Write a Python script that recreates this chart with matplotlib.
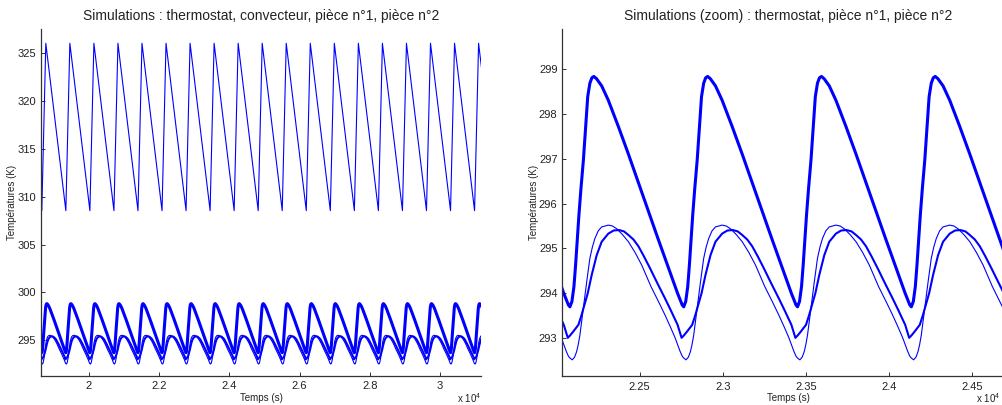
import numpy as np
import matplotlib
matplotlib.use("Agg")
import matplotlib.pyplot as plt
from matplotlib.ticker import FixedLocator, FixedFormatter

plt.rcParams['font.family'] = ['Liberation Sans', 'DejaVu Sans']
plt.rcParams['mathtext.default'] = 'regular'

BLUE = (0, 0, 1)
DARK = "#333333"

# heater switch-on instants (thermostat minima), seconds
switch_on_s = [17970, 18655, 19340, 20025, 20710, 21395, 22080, 22765, 23450,
               24135, 24820, 25505, 26190, 26875, 27560, 28245, 28930, 29615,
               30300, 30985, 31670]

# one cycle of each signal (offset s, temperature K)
conv_off = [0, 114, 685]
conv_val = [308.55, 326.04, 308.55]

thermo_off = [0, 12, 24, 34, 44, 54, 66, 81, 95, 107, 120, 132, 144, 160, 191,
              231, 291, 352, 426, 530, 600, 648, 664, 676, 685]
thermo_val = [293.70, 293.82, 294.15, 294.63, 295.20, 295.74, 296.32, 296.97,
              297.72, 298.38, 298.68, 298.80, 298.83, 298.78, 298.62, 298.30,
              297.72, 297.10, 296.32, 295.22, 294.50, 294.00, 293.85, 293.74,
              293.70]

room1_off = [0, 20, 51, 70, 87, 107, 131, 161, 191, 231, 263, 295, 325, 352,
             382, 412, 446, 482, 527, 572, 610, 648, 672, 685]
room1_val = [293.06, 293.15, 293.30, 293.52, 293.74, 294.00, 294.41, 294.85,
             295.15, 295.33, 295.40, 295.41, 295.38, 295.30, 295.20, 295.05,
             294.82, 294.56, 294.22, 293.89, 293.60, 293.30, 293.01, 293.06]

room2_off = [0, 14, 28, 40, 50, 60, 70, 81, 101, 120, 135, 150, 170, 191, 231,
             256, 281, 316, 352, 392, 432, 488, 530, 572, 605, 632, 648, 664,
             676, 685]
room2_val = [292.56, 292.52, 292.58, 292.70, 292.86, 293.07, 293.36, 293.67,
             294.26, 294.78, 295.03, 295.22, 295.39, 295.48, 295.52, 295.50,
             295.44, 295.31, 295.15, 294.91, 294.63, 294.15, 293.84, 293.52,
             293.25, 293.02, 292.86, 292.70, 292.60, 292.56]

left_xticks = [20000, 22000, 24000, 26000, 28000, 30000]
left_xlabels = ["2", "2.2", "2.4", "2.6", "2.8", "3"]
left_yticks = [295, 300, 305, 310, 315, 320, 325]
right_xticks = [22500, 23000, 23500, 24000, 24500]
right_xlabels = ["2.25", "2.3", "2.35", "2.4", "2.45"]
right_yticks = [293, 294, 295, 296, 297, 298, 299]


def build(offsets, values):
    t, v = [], []
    for s in switch_on_s:
        t.extend(s + np.asarray(offsets, dtype=float))
        v.extend(values)
    return np.array(t), np.array(v)


conv = build(conv_off, conv_val)
thermo = build(thermo_off, thermo_val)
room1 = build(room1_off, room1_val)
room2 = build(room2_off, room2_val)

fig = plt.figure(figsize=(10.02, 4.05), dpi=100)
W, H = 1002, 405


def make_axes(x0, x1, y0, y1):
    return fig.add_axes([x0 / W, 1 - y1 / H, (x1 - x0) / W, (y1 - y0) / H])


def style(ax):
    for side in ("top", "right"):
        ax.spines[side].set_visible(False)
    for side in ("left", "bottom"):
        ax.spines[side].set_color(DARK)
        ax.spines[side].set_linewidth(0.9)
    ax.tick_params(direction="in", length=3, width=0.7, colors=DARK,
                   labelsize=8, labelcolor="#222222")
    ax.tick_params(axis="x", pad=4)


ax1 = make_axes(41, 481, 29.3, 375.7)
ax1.plot(*conv, color=BLUE, lw=0.8)
ax1.plot(*thermo, color=BLUE, lw=2.2)
ax1.plot(*room1, color=BLUE, lw=1.5)
ax1.plot(*room2, color=BLUE, lw=0.8)
ax1.set_xlim(18632, 31168)
ax1.set_ylim(291.3, 327.5)
ax1.xaxis.set_major_locator(FixedLocator(left_xticks))
ax1.xaxis.set_major_formatter(FixedFormatter(left_xlabels))
ax1.set_yticks(left_yticks)
style(ax1)
ax1.set_title("Simulations : thermostat, convecteur, pièce n°1, pièce n°2",
              fontsize=10, pad=6.5, color="#222222")
ax1.set_xlabel("Temps (s)", fontsize=7, color="#222222")
ax1.set_ylabel("Températures (K)", fontsize=7, color="#222222")
ax1.xaxis.set_label_coords(0.5, -0.05)
ax1.yaxis.set_label_coords(-0.0545, 0.5)

ax2 = make_axes(562.3, 1014, 29.3, 376)
ax2.plot(*thermo, color=BLUE, lw=2.2)
ax2.plot(*room1, color=BLUE, lw=1.5)
ax2.plot(*room2, color=BLUE, lw=0.8)
ax2.set_xlim(22034, 24753)
ax2.set_ylim(292.16, 299.88)
ax2.xaxis.set_major_locator(FixedLocator(right_xticks))
ax2.xaxis.set_major_formatter(FixedFormatter(right_xlabels))
ax2.set_yticks(right_yticks)
style(ax2)
ax2.set_title("Simulations (zoom) : thermostat, pièce n°1, pièce n°2",
              fontsize=10, pad=6.5, color="#222222")
ax2.set_xlabel("Temps (s)", fontsize=7, color="#222222")
ax2.set_ylabel("Températures (K)", fontsize=7, color="#222222")
ax2.xaxis.set_label_coords(0.5, -0.05)
ax2.yaxis.set_label_coords(-0.0516, 0.5)

fig.text(481 / W, 1 - 398 / H, r"x 10$^{4}$", ha="right", va="center",
         fontsize=7, color="#222222")
fig.text(1000 / W, 1 - 398 / H, r"x 10$^{4}$", ha="right", va="center",
         fontsize=7, color="#222222")

fig.savefig("out.png", dpi=100)
